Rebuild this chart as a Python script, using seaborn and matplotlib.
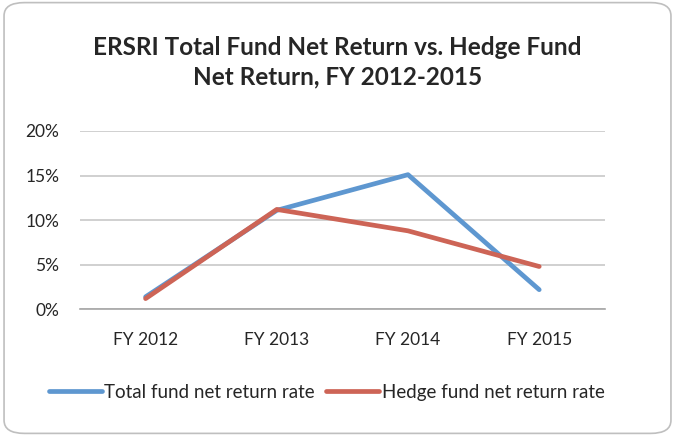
import pandas as pd
import numpy as np
import matplotlib
matplotlib.use("Agg")
import matplotlib.pyplot as plt
from matplotlib.patches import FancyBboxPatch
import seaborn as sns

years = ["FY 2012", "FY 2013", "FY 2014", "FY 2015"]
total_fund = [0.014, 0.111, 0.151, 0.022]
hedge_fund = [0.012, 0.112, 0.088, 0.048]
series_names = ["Total fund net return rate", "Hedge fund net return rate"]
colors = ["#5E97D0", "#CD6456"]

df = pd.DataFrame({
    "year": years * 2,
    "rate": total_fund + hedge_fund,
    "series": [series_names[0]] * 4 + [series_names[1]] * 4,
})
df["x"] = df["year"].map({y: i for i, y in enumerate(years)})

sns.set_style("white")
plt.rcParams["font.family"] = ["Lato", "DejaVu Sans"]

fig = plt.figure(figsize=(6.75, 4.36), dpi=100)
ax = fig.add_axes([0.1185, 0.2906, 0.7775, 0.409])

# rounded frame around the whole chart
frame = FancyBboxPatch((0.006, 0.006), 0.988, 0.988, boxstyle="round,pad=0,rounding_size=0.03",
                       transform=fig.transFigure, facecolor="white", edgecolor="#BFBFBF",
                       linewidth=1.2, zorder=-10)
fig.patches.append(frame)

sns.lineplot(data=df, x="x", y="rate", hue="series", palette=colors,
             linewidth=3.4, ax=ax, legend=False)

ax.set_xlim(-0.5, 3.5)
ax.set_ylim(0, 0.2)
ticks = np.arange(0, 0.21, 0.05)
ax.set_yticks(ticks)
ax.set_yticklabels([f"{int(round(v * 100))}%" for v in ticks], fontsize=12.5)
ax.set_xticks(range(4))
ax.set_xticklabels(years, fontsize=12.5)
ax.tick_params(axis="y", length=0, pad=15)
ax.tick_params(axis="x", length=0, pad=16)
ax.grid(axis="y", color="#C8C8C8", linewidth=1.2)
ax.set_axisbelow(True)
for s in ["top", "right", "left"]:
    ax.spines[s].set_visible(False)
ax.spines["bottom"].set_color("#A6A6A6")
ax.spines["bottom"].set_linewidth(1.2)
ax.set_xlabel("")
ax.set_ylabel("")
ax.set_facecolor("none")

fig.text(0.5, 0.857, "ERSRI Total Fund Net Return vs. Hedge Fund\nNet Return, FY 2012-2015",
         ha="center", va="center", fontsize=17.5, fontweight="bold", linespacing=1.3)

handles = [plt.Line2D([], [], color=c, linewidth=3.4) for c in colors]
fig.legend(handles, series_names, loc="center", bbox_to_anchor=(0.484, 0.1), ncol=2,
           frameon=False, fontsize=13.5, handlelength=2.8, handletextpad=0.15, columnspacing=0.6)

fig.savefig("out.png", dpi=100)
